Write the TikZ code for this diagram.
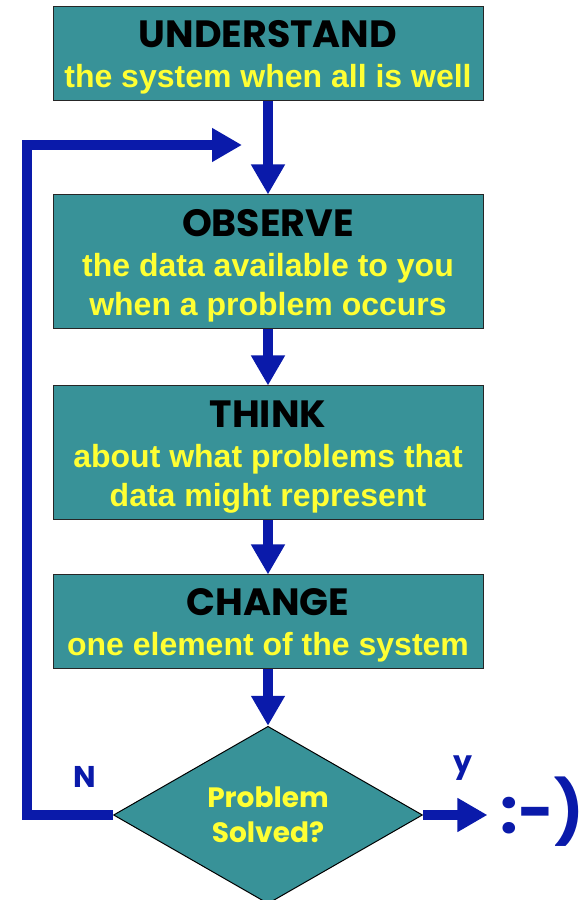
\documentclass[tikz,border=0pt]{standalone}
\usepackage{fontspec}
\setmainfont{Liberation Sans}
\newfontfamily\comicfont{Poppins}
\usetikzlibrary{arrows.meta,shapes.geometric}

\definecolor{boxteal}{RGB}{56,146,152}
\definecolor{flowblue}{RGB}{10,26,170}
\definecolor{textyellow}{RGB}{255,255,51}

% black headline on top of each stage (the strut pushes the text block down a bit)
\newcommand{\stagetitle}[1]{{\rule{0pt}{34pt}\comicfont\fontsize{38}{40}\selectfont\color{black}#1}}

\tikzset{
  stagebox/.style={draw=black!85, line width=1pt, fill=boxteal, minimum width=430pt,
    inner sep=0pt, text=textyellow, align=center,
    font=\bfseries\fontsize{32}{39}\selectfont},
  flow/.style={draw=flowblue, line width=10pt, -{Triangle[width=32pt,length=30pt]}},
  answer/.style={text=flowblue, font=\comicfont\bfseries\fontsize{30}{32}\selectfont}
}

\begin{document}
\begin{tikzpicture}[x=1pt,y=1pt]
    \useasboundingbox (0,0) rectangle (584,900);

    % the four stages
    \node[stagebox, minimum height=94pt] (understand) at (268,846)
        {\stagetitle{UNDERSTAND}\\[1pt]the system when all is well};
    \node[stagebox, minimum height=134pt] (observe) at (268,638)
        {\stagetitle{OBSERVE}\\[1pt]the data available to you\\when a problem occurs};
    \node[stagebox, minimum height=134pt] (think) at (268,447)
        {\stagetitle{THINK}\\[1pt]about what problems that\\data might represent};
    \node[stagebox, minimum height=94pt] (change) at (268,278)
        {\stagetitle{CHANGE}\\[1pt]one element of the system};

    % decision
    \node[shape=diamond, draw=black, line width=1pt, fill=boxteal, minimum width=309pt,
        minimum height=174pt, inner sep=0pt, text=textyellow, align=center,
        font=\comicfont\bfseries\fontsize{28}{35}\selectfont] (solved) at (268,85) {Problem\\Solved?};

    \node[answer, font=\comicfont\bfseries\fontsize{62}{64}\selectfont, inner sep=0pt,
        anchor=east] (smile) at (584,88) {:-)};
    \coordinate (loop) at (242,755);
    \coordinate (corner) at (27,755);

    % arrows
    \draw[flow] (understand) -- (observe);
    \draw[flow] (observe) -- (think);
    \draw[flow] (think) -- (change);
    \draw[flow] (change) -- (solved);
    \draw[flow] (solved.west) -| (corner) -- (loop);
    \draw[flow, shorten >=13pt] (solved.east) -- (smile.west |- solved.east);

    % answers
    \node[answer] (no) at (85,123) {N};
    \node[answer] (yes) at (463,132) {y};

\end{tikzpicture}
\end{document}
